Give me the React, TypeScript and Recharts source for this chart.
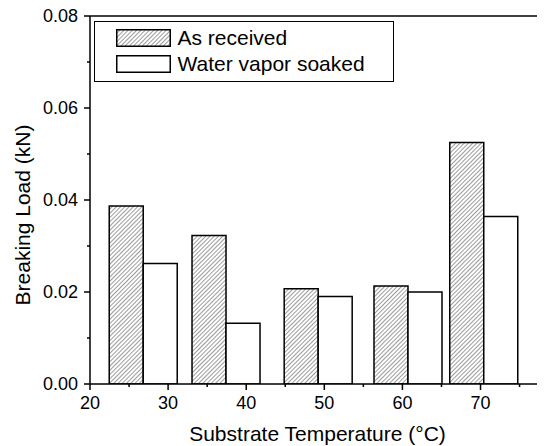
import React from "react";
import { BarChart, Bar, XAxis, YAxis, ReferenceLine, Legend } from "recharts";

const temperatures = [26.8, 37.4, 49.2, 60.7, 70.4];
const asReceived = [0.0387, 0.0323, 0.0207, 0.0213, 0.0525];
const waterVaporSoaked = [0.0262, 0.0132, 0.019, 0.02, 0.0364];
const seriesNames = ["As received", "Water vapor soaked"];
const xTicks = [20, 25, 30, 35, 40, 45, 50, 55, 60, 65, 70, 75];
const yTicks = [0, 0.01, 0.02, 0.03, 0.04, 0.05, 0.06, 0.07, 0.08];
const xTitle = "Substrate Temperature (°C)";
const yTitle = "Breaking Load (kN)";

const data = temperatures.map((t, i) => ({
  x: t,
  asReceived: asReceived[i],
  soaked: waterVaporSoaked[i],
}));

const FONT = "'Liberation Sans', Arial, Helvetica, sans-serif";

const XTick = (props: any) => {
  const { x, y, index, payload } = props;
  const major = index % 2 === 0;
  return (
    <g>
      <line x1={x} x2={x} y1={y} y2={y + (major ? 6 : 3)} stroke="#000" strokeWidth={1.5} />
      {major && (
        <text x={x} y={y + 12} dy="0.71em" textAnchor="middle" fontSize={18} fontFamily={FONT} fill="#000">
          {payload.value}
        </text>
      )}
    </g>
  );
};

const YTick = (props: any) => {
  const { x, y, index, payload } = props;
  const major = index % 2 === 0;
  return (
    <g>
      <line x1={x - (major ? 6 : 3)} x2={x} y1={y} y2={y} stroke="#000" strokeWidth={1.5} />
      {major && (
        <text x={x - 12} y={y} dy="0.355em" textAnchor="end" fontSize={18} fontFamily={FONT} fill="#000">
          {Number(payload.value).toFixed(2)}
        </text>
      )}
    </g>
  );
};

const Swatch = ({ hatched }: { hatched: boolean }) => (
  <svg width={55} height={18} style={{ display: "block" }}>
    <defs>
      <pattern id="legendHatch" patternUnits="userSpaceOnUse" width={3} height={3} patternTransform="rotate(45)">
        <line x1={0} y1={0} x2={0} y2={3} stroke="#222" strokeWidth={0.9} />
      </pattern>
    </defs>
    <rect x={0.75} y={0.75} width={53.5} height={16.5} fill={hatched ? "url(#legendHatch)" : "#fff"} stroke="#000" strokeWidth={1.5} />
  </svg>
);

const LegendBox = () => (
  <div
    style={{
      position: "relative",
      width: 300,
      height: 61,
      border: "1.5px solid #000",
      boxSizing: "border-box",
      background: "#fff",
      fontFamily: FONT,
      fontSize: 21,
      color: "#000",
    }}
  >
    {seriesNames.map((name, i) => (
      <div key={name} style={{ position: "absolute", left: 20.5, top: 7 + i * 26, display: "flex", alignItems: "center", height: 18 }}>
        <Swatch hatched={i === 0} />
        <span style={{ marginLeft: 7, lineHeight: "18px", whiteSpace: "nowrap" }}>{name}</span>
      </div>
    ))}
  </div>
);

export default function App() {
  return (
    <div style={{ width: 545, height: 446, background: "#fff", margin: "-8px 0 0 -8px" }}>
      <BarChart
        width={545}
        height={446}
        data={data}
        margin={{ top: 16, right: 2, bottom: 0, left: 0 }}
        barGap={0}
        barCategoryGap={0}
      >
        <defs>
          <pattern id="barHatch" patternUnits="userSpaceOnUse" width={3} height={3} patternTransform="rotate(45)">
            <line x1={0} y1={0} x2={0} y2={3} stroke="#222" strokeWidth={0.9} />
          </pattern>
        </defs>
        <XAxis
          dataKey="x"
          type="number"
          domain={[20, 78]}
          ticks={xTicks}
          interval={0}
          height={62}
          tickSize={0}
          tickMargin={0}
          tickLine={false}
          axisLine={{ stroke: "#000", strokeWidth: 1.5 }}
          tick={<XTick />}
          allowDataOverflow
          label={{
            content: (p: any) => {
              const vb = p.viewBox;
              return (
                <text x={vb.x + vb.width / 2 + 1} y={vb.y + 57} textAnchor="middle" fontSize={21} fontFamily={FONT} fill="#000">
                  {xTitle}
                </text>
              );
            },
          }}
        />
        <YAxis
          type="number"
          domain={[0, 0.08]}
          ticks={yTicks}
          interval={0}
          width={90}
          tickSize={0}
          tickMargin={0}
          tickLine={false}
          axisLine={{ stroke: "#000", strokeWidth: 1.5 }}
          tick={<YTick />}
          allowDataOverflow
          label={{
            content: (p: any) => {
              const vb = p.viewBox;
              const cx = vb.x + 30;
              const cy = vb.y + vb.height / 2 + 15;
              return (
                <text x={cx} y={cy} transform={`rotate(-90 ${cx} ${cy})`} textAnchor="middle" fontSize={21} fontFamily={FONT} fill="#000">
                  {yTitle}
                </text>
              );
            },
          }}
        />
        <ReferenceLine y={0.08} stroke="#000" strokeWidth={1.5} />
        <ReferenceLine x={78} stroke="#000" strokeWidth={1.5} />
        <Legend
          layout="vertical"
          align="center"
          verticalAlign="middle"
          wrapperStyle={{ left: 94, top: 21, width: 300, height: 61 }}
          content={() => <LegendBox />}
        />
        <Bar dataKey="asReceived" name={seriesNames[0]} fill="url(#barHatch)" stroke="#000" strokeWidth={1.5} barSize={34} isAnimationActive={false} />
        <Bar dataKey="soaked" name={seriesNames[1]} fill="#fff" stroke="#000" strokeWidth={1.5} barSize={34} isAnimationActive={false} />
      </BarChart>
    </div>
  );
}
